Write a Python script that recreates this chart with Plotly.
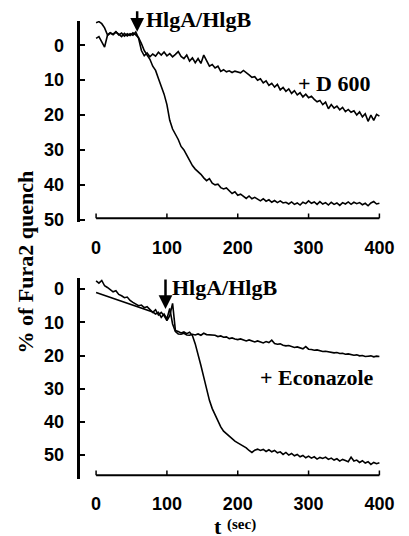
import plotly.graph_objects as go

# ---------------- data ----------------
t_sec = [0, 4, 8, 12, 16, 20, 24, 28, 32, 36, 40, 44, 48, 52, 56, 60, 64, 68, 72, 76,
         80, 84, 88, 92, 96, 100, 104, 108, 112, 116, 120, 124, 128, 132, 136, 140, 144, 148, 152, 156,
         160, 164, 168, 172, 176, 180, 184, 188, 192, 196, 200, 204, 208, 212, 216, 220, 224, 228, 232, 236,
         240, 244, 248, 252, 256, 260, 264, 268, 272, 276, 280, 284, 288, 292, 296, 300, 304, 308, 312, 316,
         320, 324, 328, 332, 336, 340, 344, 348, 352, 356, 360, 364, 368, 372, 376, 380, 384, 388, 392, 396, 400]

# top panel: HlgA/HlgB alone
top_control = [-6.5, -6.8, -6.2, -5.0, -3.0, -3.6, -3.2, -3.9, -3.0, -3.5, -2.6, -3.3, -2.8, -3.6, -3.0, -2.2, -0.5, 1.5, 2.8, 4.0,
               6.0, 7.2, 9.5, 11.5, 14.0, 17.0, 21.5, 24.0, 25.5, 27.0, 29.0, 30.0, 31.5, 33.0, 34.5, 35.5, 36.2, 37.0, 38.0, 38.8,
               38.2, 39.5, 40.0, 39.8, 40.8, 41.2, 40.9, 41.8, 42.5, 42.0, 43.0, 42.7, 43.4, 43.9, 43.2, 44.0, 43.6, 44.2, 44.6, 44.0,
               44.7, 44.3, 45.0, 44.5, 45.1, 44.6, 45.2, 45.0, 45.5, 44.9, 45.6, 45.2, 45.8, 45.0, 45.4, 44.6, 45.3, 44.9, 45.6, 44.8,
               45.5, 45.1, 45.8, 45.0, 45.6, 45.2, 45.9, 45.1, 45.5, 44.9, 45.6, 45.0, 45.4, 45.1, 45.7, 45.3, 46.0, 45.2, 44.8, 45.5, 45.3]
# top panel: + D 600
top_d600 = [-2.0, -2.5, -1.0, 0.5, -2.8, -3.5, -3.0, -3.8, -3.2, -2.5, -3.4, -2.7, -3.3, -2.9, -3.8, -2.0, 1.5, 3.0, 2.2, 3.3,
            2.5, 3.1, 2.0, 2.8, 1.9, 3.0, 2.4, 3.3, 2.6, 1.8, 3.2, 3.8, 2.8, 4.5, 3.6, 5.0, 3.8, 5.2, 2.8, 4.6,
            6.0, 5.5, 6.5, 6.0, 7.5, 7.0, 7.6, 7.3, 7.8, 7.4, 7.7, 7.9, 7.2, 8.0, 8.5, 9.2, 9.0, 10.0, 9.6, 10.8,
            10.2, 11.5, 10.9, 12.0, 11.2, 12.8, 12.1, 13.2, 12.5, 13.8, 13.0, 14.2, 13.6, 14.8, 14.0, 15.0, 14.6, 15.5, 16.2, 15.8,
            17.0, 16.3, 18.2, 17.0, 18.0, 17.4, 18.5, 17.8, 19.0, 18.4, 19.2, 18.8, 20.0, 19.1, 20.5, 19.6, 21.8, 20.0, 21.5, 19.8, 20.3]

# bottom panel: HlgA/HlgB alone
bot_control = [-2.5, -1.8, -2.6, -1.0, -0.5, 0.3, 0.8, 0.5, 1.6, 2.0, 2.6, 2.4, 3.4, 4.0, 4.6, 5.0, 4.8, 5.6, 5.3, 6.2,
               7.0, 6.2, 7.8, 7.0, 8.0, 9.5, 8.0, 4.3, 12.5, 12.8, 13.2, 12.9, 13.4, 13.0, 14.0, 16.5, 19.5, 23.0, 26.5, 30.0,
               33.5, 36.0, 38.0, 40.0, 41.5, 42.8, 43.6, 44.5, 45.2, 45.8, 46.3, 46.8, 47.3, 47.8, 48.6, 49.2, 48.5, 48.2, 48.6, 48.3,
               48.9, 48.4, 49.0, 48.6, 49.3, 49.0, 49.8, 49.2, 50.0, 49.5, 50.2, 49.8, 50.5, 50.1, 50.8, 50.3, 50.9, 50.5, 51.2, 50.7,
               51.0, 50.6, 51.3, 50.9, 51.5, 51.1, 51.8, 51.3, 51.6, 52.0, 50.6, 51.8, 51.5, 52.2, 51.7, 52.4, 52.0, 52.8, 52.2, 52.6, 52.3]
# bottom panel: + Econazole
bot_econazole = [1.0, 1.3, 1.6, 1.9, 2.2, 2.5, 2.8, 3.0, 3.4, 3.6, 3.9, 4.2, 4.5, 4.8, 5.1, 5.4, 5.6, 5.9, 6.3, 6.5,
                 6.9, 7.5, 7.0, 8.5, 7.5, 9.0, 5.8, 10.5, 12.8, 13.5, 13.6, 13.3, 13.8, 13.9, 13.6, 13.8, 13.5, 13.9, 13.3, 13.7,
                 13.8, 14.0, 13.9, 14.3, 14.1, 14.5, 14.4, 14.9, 14.7, 15.0, 15.2, 15.0, 15.4, 15.6, 15.3, 15.7, 15.9, 15.6, 16.0, 16.2,
                 15.8, 16.1, 15.4, 16.4, 16.6, 16.5, 16.9, 17.1, 17.0, 17.3, 17.6, 17.4, 17.8, 18.0, 17.3, 18.1, 18.2, 18.4, 18.3, 18.6,
                 18.8, 18.7, 18.9, 19.0, 19.2, 19.1, 19.4, 19.3, 19.6, 19.5, 19.7, 19.9, 19.8, 20.1, 20.0, 20.3, 20.2, 20.1, 20.4, 20.2, 20.3]

x_ticks = [0, 100, 200, 300, 400]
y_ticks = [0, 10, 20, 30, 40, 50]

# ---------------- figure ----------------
W, H = 409, 536
line = dict(color="black", width=1.6)
fig = go.Figure()
fig.add_trace(go.Scatter(x=t_sec, y=top_control, mode="lines", line=line, xaxis="x", yaxis="y"))
fig.add_trace(go.Scatter(x=t_sec, y=top_d600, mode="lines", line=line, xaxis="x", yaxis="y"))
fig.add_trace(go.Scatter(x=t_sec, y=bot_control, mode="lines", line=line, xaxis="x2", yaxis="y2"))
fig.add_trace(go.Scatter(x=t_sec, y=bot_econazole, mode="lines", line=line, xaxis="x2", yaxis="y2"))

sans = dict(family="Liberation Sans, Arial", size=18, color="black", weight="bold")
serif = dict(family="Liberation Serif, Times New Roman", size=22, color="black", weight="bold")

x_dom = [82 / W, 394.2 / W]
x_rng = [-22.15, 410]

def xax(anchor, standoff):
    return dict(domain=x_dom, range=x_rng, anchor=anchor, showgrid=False, zeroline=False,
                showline=False, ticks="", tickvals=x_ticks, tickfont=sans, ticklabelstandoff=standoff)

def yax(dom, rng, anchor):
    return dict(domain=dom, range=rng, anchor=anchor, showgrid=False, zeroline=False,
                showline=True, linecolor="black", linewidth=2.5, ticks="inside", ticklen=5,
                tickwidth=2, tickcolor="black", tickvals=y_ticks, tickfont=sans, ticklabelstandoff=10)

fig.update_layout(
    width=W, height=H, margin=dict(l=0, r=0, t=0, b=0),
    paper_bgcolor="white", plot_bgcolor="white", showlegend=False,
    xaxis=xax("y", 13),
    yaxis=yax([(H - 225) / H, (H - 21) / H], [50.56, -7.06], "x"),
    xaxis2=xax("y2", 12),
    yaxis2=yax([(H - 486) / H, (H - 282) / H], [57.12, -3.41], "x2"),
)

# separate x-axis baselines with inward ticks
for xr, yr, ybase, tl in [("x", "y", 49.6, 1.4), ("x2", "y2", 56.1, 1.5)]:
    fig.add_shape(type="line", xref=xr, yref=yr, x0=x_ticks[0], x1=x_ticks[-1], y0=ybase, y1=ybase,
                  line=dict(color="black", width=2))
    for xv in x_ticks:
        fig.add_shape(type="line", xref=xr, yref=yr, x0=xv, x1=xv, y0=ybase, y1=ybase - tl,
                      line=dict(color="black", width=1.5))

arrow = dict(showarrow=True, arrowhead=2, arrowsize=1.1, arrowwidth=2.5, arrowcolor="black", ax=0, text="")
fig.add_annotation(x=58, y=-3.9, xref="x", yref="y", ay=-22, **arrow)
fig.add_annotation(x=98, y=6.0, xref="x2", yref="y2", ay=-31, **arrow)

fig.add_annotation(x=147 / W, y=(H - 20) / H, xref="paper", yref="paper", text="HlgA/HlgB", showarrow=False,
                   xanchor="left", yanchor="middle", font=serif)
fig.add_annotation(x=282, y=11.0, xref="x", yref="y", text="+ D 600", showarrow=False,
                   xanchor="left", yanchor="middle", font=serif)
fig.add_annotation(x=104, y=-0.6, xref="x2", yref="y2", text="HlgA/HlgB", showarrow=False,
                   xanchor="left", yanchor="middle", font=serif)
fig.add_annotation(x=228, y=26.5, xref="x2", yref="y2", text="+ Econazole", showarrow=False,
                   xanchor="left", yanchor="middle", font=serif)

fig.add_annotation(x=26 / W, y=(H - 266) / H, xref="paper", yref="paper", text="% of Fura2 quench",
                   textangle=-90, showarrow=False, xanchor="center", yanchor="middle", font=serif)
fig.add_annotation(x=222 / W, y=(H - 534) / H, xref="paper", yref="paper", text="t",
                   showarrow=False, xanchor="center", yanchor="middle", font=serif)
fig.add_annotation(x=229 / W, y=(H - 532) / H, xref="paper", yref="paper", text="(sec)",
                   showarrow=False, xanchor="left", yanchor="middle",
                   font=dict(family="Liberation Serif, Times New Roman", size=15, color="black", weight="bold"))

fig.write_html("out.html")
